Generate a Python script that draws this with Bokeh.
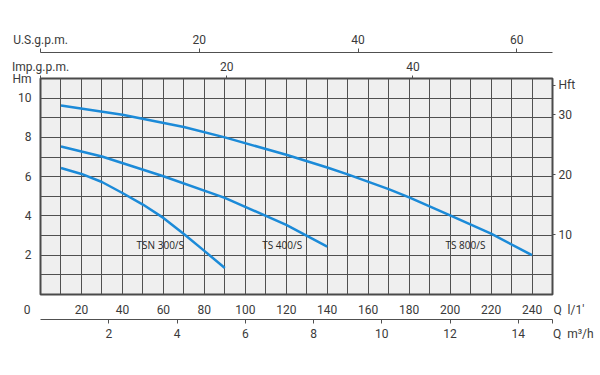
from bokeh.plotting import figure
from bokeh.models import Range1d, LinearAxis, FixedTicker, SingleIntervalTicker, Label, Grid
from bokeh.embed import file_html
from bokeh.resources import INLINE

# ---- data ----
q_tsn300 = [10, 20, 30, 40, 50, 60, 70, 80, 90]
h_tsn300 = [6.44, 6.14, 5.73, 5.17, 4.58, 3.90, 3.08, 2.22, 1.35]

q_ts400 = [10, 30, 60, 90, 120, 140]
h_ts400 = [7.54, 7.03, 6.02, 4.92, 3.55, 2.44]

q_ts800 = [10, 40, 70, 90, 120, 140, 150, 170, 180, 200, 220, 240]
h_ts800 = [9.63, 9.15, 8.53, 8.00, 7.12, 6.47, 6.12, 5.37, 4.95, 4.03, 3.10, 2.00]

curve_names = ["TSN 300/S", "TS 400/S", "TS 800/S"]
name_q = [58.5, 118, 207.5]
name_h = [2.5, 2.5, 2.5]

lmin_ticks = [20, 40, 60, 80, 100, 120, 140, 160, 180, 200, 220, 240]
m_ticks = [2, 4, 6, 8, 10]
ft_ticks = [10, 20, 30]
imp_ticks = [20, 40]
us_ticks = [20, 40, 60]
m3h_ticks = [2, 4, 6, 8, 10, 12, 14]

# unit captions shown at the ends of the scales
Q_MAX = 250      # l/min
H_MAX = 11       # m
US_MAX = 64.5    # U.S. gpm at right edge, as drawn
FT_CAPTION_AT = 35
NB = "\u00a0"
cap_origin = "0"
cap_lmin = "Q" + NB * 2 + "l/1'"
cap_m3h = "Q" + NB * 2 + "m\u00b3/h"
cap_ft = "Hft"
cap_m = "Hm"
cap_us = "U.S.g.p.m."
cap_imp = "Imp.g.p.m."

FONT = "Roboto"
TXT = "#3a3a3a"
GRID = "#505050"
BLUE = "#1b8ad8"

p = figure(width=600, height=365,
           x_range=Range1d(0, Q_MAX), y_range=Range1d(0, H_MAX),
           x_axis_type=None, y_axis_type=None,
           output_backend="svg", toolbar_location=None,
           min_border_left=40, min_border_right=48,
           min_border_top=78, min_border_bottom=71,
           background_fill_color="#efefef", border_fill_color="white",
           outline_line_color="#4a4a4a", outline_line_width=2)

p.extra_x_ranges = {
    "m3h": Range1d(0, Q_MAX * 0.06),
    "imp": Range1d(0, Q_MAX / 4.546),
    "us": Range1d(0, US_MAX),
}
p.extra_y_ranges = {"ft": Range1d(0, H_MAX / 0.3048)}


def style(ax, tick_out, standoff, line=False):
    ax.major_tick_out = tick_out
    ax.major_tick_in = 0
    ax.minor_tick_out = 0
    ax.minor_tick_in = 0
    ax.major_tick_line_color = GRID
    ax.major_label_standoff = standoff
    ax.major_label_text_font = FONT
    ax.major_label_text_font_size = "12px"
    ax.major_label_text_color = TXT
    if line:
        ax.axis_line_color = GRID
        ax.axis_line_width = 1
    else:
        ax.axis_line_color = None


# below: l/min then m3/h
ax_lmin = LinearAxis(ticker=FixedTicker(ticks=[0] + lmin_ticks + [Q_MAX]))
style(ax_lmin, 0, 8)
ax_lmin.major_label_overrides = {0: cap_origin + NB * 9,
                                 Q_MAX: NB * 11 + cap_lmin}
p.add_layout(ax_lmin, "below")

ax_m3h = LinearAxis(x_range_name="m3h", ticker=FixedTicker(ticks=m3h_ticks + [15]))
style(ax_m3h, 4, 3, line=True)
ax_m3h.major_label_overrides = {15: NB * 14 + cap_m3h}
p.add_layout(ax_m3h, "below")

# left: metres
ax_m = LinearAxis(ticker=FixedTicker(ticks=m_ticks + [H_MAX]))
style(ax_m, 0, 9)
ax_m.major_label_overrides = {H_MAX: cap_m}
p.add_layout(ax_m, "left")

# right: feet
ax_ft = LinearAxis(y_range_name="ft", ticker=FixedTicker(ticks=ft_ticks + [FT_CAPTION_AT]))
style(ax_ft, 3, 3)
ax_ft.major_label_overrides = {FT_CAPTION_AT: cap_ft}
p.add_layout(ax_ft, "right")

# above: Imp gpm then US gpm
ax_imp = LinearAxis(x_range_name="imp", ticker=FixedTicker(ticks=[0] + imp_ticks))
style(ax_imp, 3, 2)
ax_imp.major_label_overrides = {0: cap_imp}
ax_imp.axis_label = " "
ax_imp.axis_label_text_font_size = "1px"
ax_imp.axis_label_standoff = 0
p.add_layout(ax_imp, "above")

ax_us = LinearAxis(x_range_name="us", ticker=FixedTicker(ticks=[0] + us_ticks))
style(ax_us, 4, 2, line=True)
ax_us.major_label_overrides = {0: cap_us}
p.add_layout(ax_us, "above")

# grid
p.add_layout(Grid(dimension=0, ticker=SingleIntervalTicker(interval=10),
                  grid_line_color=GRID, grid_line_width=1))
p.add_layout(Grid(dimension=1, ticker=SingleIntervalTicker(interval=1),
                  grid_line_color=GRID, grid_line_width=1))

# curves
for q, h in [(q_tsn300, h_tsn300), (q_ts400, h_ts400), (q_ts800, h_ts800)]:
    p.line(q, h, line_color=BLUE, line_width=2.5)

for name, q, h in zip(curve_names, name_q, name_h):
    p.add_layout(Label(x=q, y=h, text=name, text_align="center",
                       text_baseline="middle", text_font="Open Sans",
                       text_font_size="10px", text_color="#262626"))

open("out.html", "w").write(file_html(p, INLINE))
